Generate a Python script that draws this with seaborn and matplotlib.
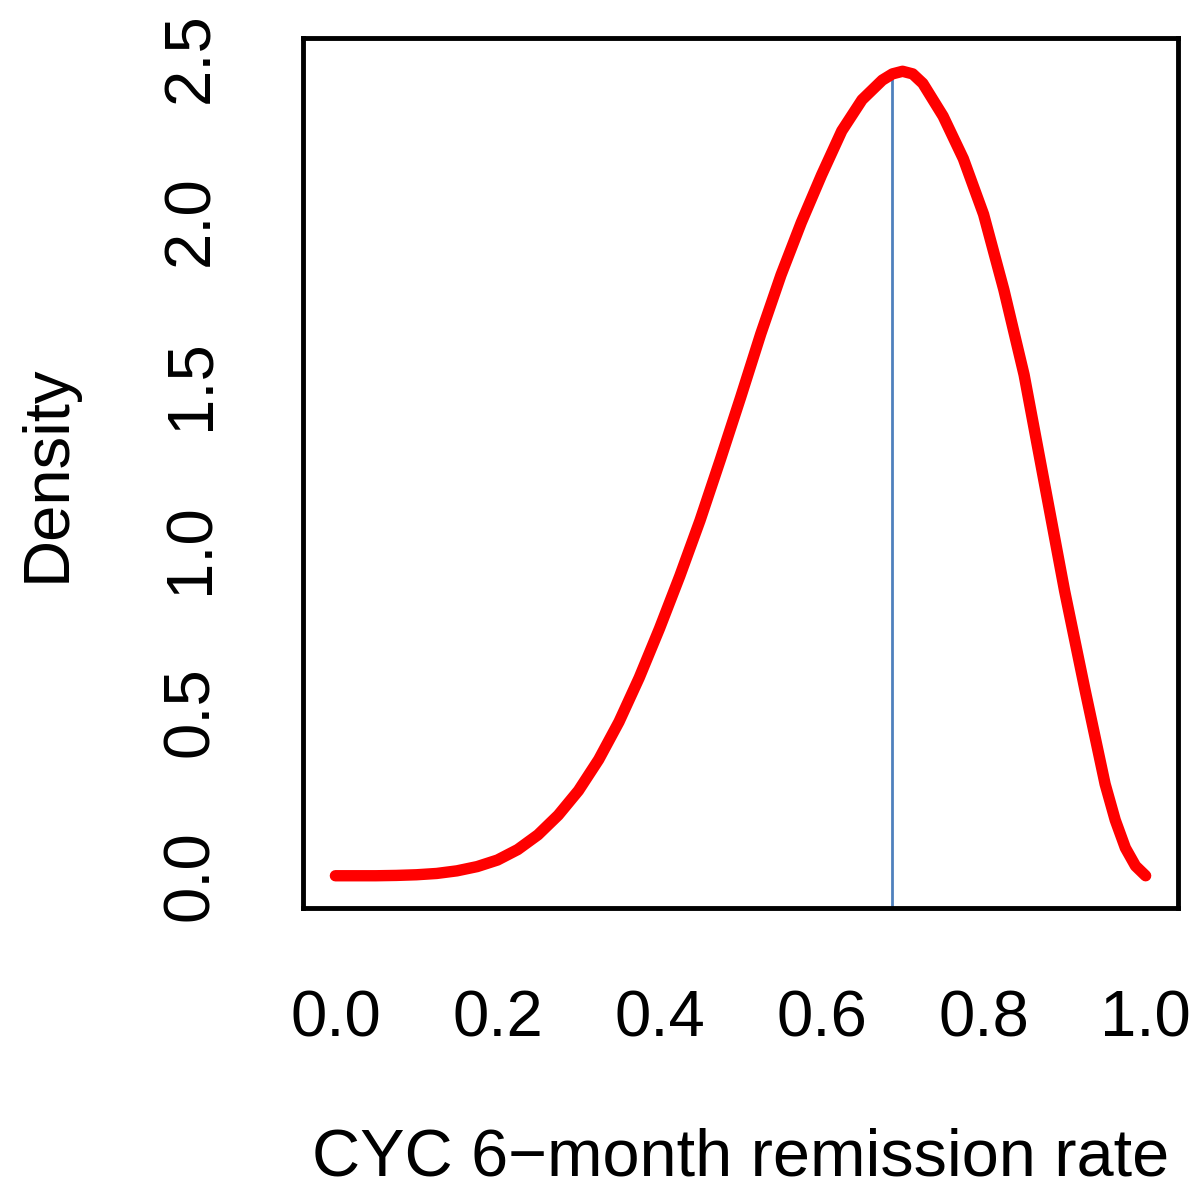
import numpy as np
import pandas as pd
import matplotlib
matplotlib.use("Agg")
import matplotlib.pyplot as plt
import seaborn as sns

# Values
rate = [0.000, 0.025, 0.050, 0.075, 0.100, 0.125, 0.150, 0.175, 0.200, 0.225,
        0.250, 0.275, 0.300, 0.325, 0.350, 0.375, 0.400, 0.425, 0.450, 0.475,
        0.500, 0.525, 0.550, 0.575, 0.600, 0.625, 0.650, 0.675, 0.6875, 0.700,
        0.7125, 0.725, 0.750, 0.775, 0.800, 0.825, 0.850, 0.875, 0.900, 0.925,
        0.950, 0.9625, 0.975, 0.9875, 1.000]
density = [0.000, 0.000, 0.000, 0.001, 0.003, 0.007, 0.015, 0.028, 0.048, 0.080,
           0.125, 0.185, 0.260, 0.355, 0.470, 0.605, 0.755, 0.915, 1.085, 1.270,
           1.460, 1.655, 1.835, 1.995, 2.140, 2.275, 2.370, 2.430, 2.449, 2.457,
           2.449, 2.420, 2.320, 2.190, 2.020, 1.790, 1.530, 1.200, 0.870, 0.570,
           0.280, 0.170, 0.085, 0.030, 0.000]
mode_x = 0.687
mode_y = 2.450
xticks = [0.0, 0.2, 0.4, 0.6, 0.8, 1.0]
xtick_labels = ["0.0", "0.2", "0.4", "0.6", "0.8", "1.0"]
yticks = [0.0, 0.5, 1.0, 1.5, 2.0, 2.5]
ytick_labels = ["0.0", "0.5", "1.0", "1.5", "2.0", "2.5"]

sns.set_style("white")
plt.rcParams['font.family'] = ['Liberation Sans', 'DejaVu Sans']

df = pd.DataFrame({"rate": rate, "density": density})

fig = plt.figure(figsize=(12, 11.9), dpi=100)
ax = fig.add_axes([0.2525, 0.237, 0.7292, 0.731])

sns.lineplot(data=df, x="rate", y="density", ax=ax, color="#ff0000",
             linewidth=8.2, solid_capstyle="round", solid_joinstyle="round")

ymax = 2.46
ax.set_xlim(-0.04, 1.04)
ax.set_ylim(-0.04 * ymax, 1.04 * ymax)
ax.vlines(mode_x, -0.04 * ymax, mode_y, color="#4f81bd", linewidth=2.0, zorder=1)

ax.set_xticks(xticks)
ax.set_xticklabels(xtick_labels)
ax.set_yticks(yticks)
ax.set_yticklabels(ytick_labels, rotation=90, va="center")

for sp in ax.spines.values():
    sp.set_visible(True)
    sp.set_linewidth(3.5)
    sp.set_color("black")

ax.tick_params(axis="both", direction="out", length=26, width=3.2, color="black",
               labelsize=47, labelcolor="black")
ax.tick_params(axis="x", pad=33)
ax.tick_params(axis="y", pad=33)

ax.set_xlabel("CYC 6\u2212month remission rate", fontsize=48, color="black")
ax.set_ylabel("Density", fontsize=47, color="black")
ax.xaxis.set_label_coords(0.5, -0.252)
ax.yaxis.set_label_coords(-0.258, 0.5)

fig.savefig("out.png", dpi=100, facecolor="white")
